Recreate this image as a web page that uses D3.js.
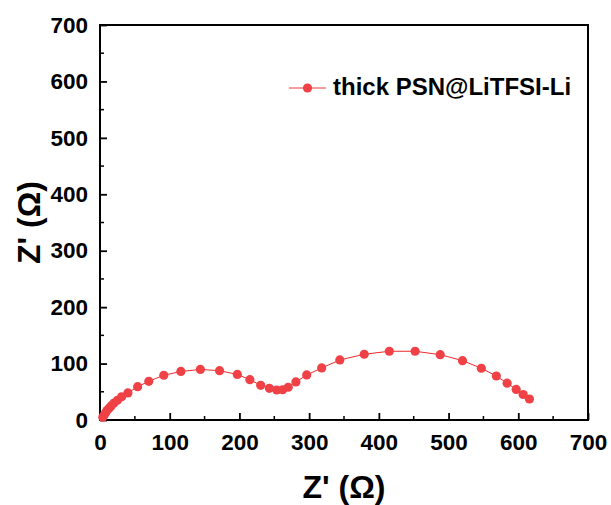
<!DOCTYPE html>
<html><head><meta charset="utf-8">
<script src="https://cdn.jsdelivr.net/npm/d3@7"></script>
<style>body{margin:0;background:#fff}svg{display:block}</style>
</head><body>
<svg id="chart" width="611" height="505"></svg>
<script>
const seriesName = "thick PSN@LiTFSI-Li";
const zReal = [4,6,8,10,13,16,20,25,31,40,54,70,91.5,116,144,171.5,197,215,230.5,243,253.5,262,270,281,296.5,318,344,379,415,452,488,520,547,568.5,584,597,607,616];
const zImag = [5,9,13,17,21,25,30,35,41,48,59,68.6,79.3,86,89.6,87.4,80.7,71.5,61.5,56.2,53.2,53.6,58,67.4,79.8,92.2,106.4,116.5,121.8,121.8,115.8,105.2,91.7,78,65.3,54.1,45.2,37.2];
const xTicks = [0,100,200,300,400,500,600,700];
const yTicks = [0,100,200,300,400,500,600,700];
const xTitle = "Z' (Ω)";
const yTitle = "Z' (Ω)";

const svg = d3.select("#chart");
const L = 100, R = 588, T = 25, B = 420;
const x = d3.scaleLinear().domain([0,700]).range([L,R]);
const y = d3.scaleLinear().domain([0,700]).range([B,T]);
const font = "Arial, 'Liberation Sans', sans-serif";
const red = "#ef4146";

// frame
svg.append("rect").attr("x",L).attr("y",T).attr("width",R-L).attr("height",B-T)
  .attr("fill","none").attr("stroke","#000").attr("stroke-width",2);

// minor ticks
const xMinor = d3.range(50,700,100);
const yMinor = d3.range(50,700,100);
svg.append("g").selectAll("line").data(xMinor).join("line")
  .attr("x1",d=>x(d)).attr("x2",d=>x(d)).attr("y1",B).attr("y2",B-4)
  .attr("stroke","#000").attr("stroke-width",1.5);
svg.append("g").selectAll("line").data(yMinor).join("line")
  .attr("y1",d=>y(d)).attr("y2",d=>y(d)).attr("x1",L).attr("x2",L+4)
  .attr("stroke","#000").attr("stroke-width",1.5);

// axes
const xAxis = d3.axisBottom(x).tickValues(xTicks).tickSizeInner(-7).tickSizeOuter(0).tickPadding(14);
const gx = svg.append("g").attr("transform",`translate(0,${B})`).call(xAxis);
gx.select(".domain").remove();
gx.selectAll(".tick line").attr("stroke-width",1.8);
gx.selectAll(".tick text").attr("font-family",font).attr("font-weight","bold").attr("font-size",22.5).attr("fill","#000");

const yAxis = d3.axisLeft(y).tickValues(yTicks).tickSizeInner(-7).tickSizeOuter(0).tickPadding(12);
const gy = svg.append("g").attr("transform",`translate(${L},0)`).call(yAxis);
gy.select(".domain").remove();
gy.selectAll(".tick line").attr("stroke-width",1.8);
gy.selectAll(".tick text").attr("font-family",font).attr("font-weight","bold").attr("font-size",22.5).attr("fill","#000");

// titles
svg.append("text").attr("x",(L+R)/2).attr("y",498).attr("text-anchor","middle")
  .attr("font-family",font).attr("font-weight","bold").attr("font-size",32).text(xTitle);
svg.append("text").attr("transform",`translate(40,${(T+B)/2}) rotate(-90)`).attr("text-anchor","middle")
  .attr("font-family",font).attr("font-weight","bold").attr("font-size",32).text(yTitle);

// data
const data = zReal.map((v,i)=>({x:v,y:zImag[i]}));
svg.append("path").datum(data)
  .attr("d",d3.line().x(d=>x(d.x)).y(d=>y(d.y)))
  .attr("fill","none").attr("stroke","#f02a2a").attr("stroke-width",1);
svg.append("g").selectAll("circle").data(data).join("circle")
  .attr("cx",d=>x(d.x)).attr("cy",d=>y(d.y)).attr("r",4.6).attr("fill",red);

// legend
const lg = svg.append("g");
lg.append("line").attr("x1",289).attr("x2",326).attr("y1",88).attr("y2",88).attr("stroke","#f03a3a").attr("stroke-width",1);
lg.append("circle").attr("cx",307.5).attr("cy",88).attr("r",4.6).attr("fill",red);
lg.append("text").attr("x",333).attr("y",95).attr("font-family",font).attr("font-weight","bold").attr("font-size",24).text(seriesName);
</script>
</body></html>
